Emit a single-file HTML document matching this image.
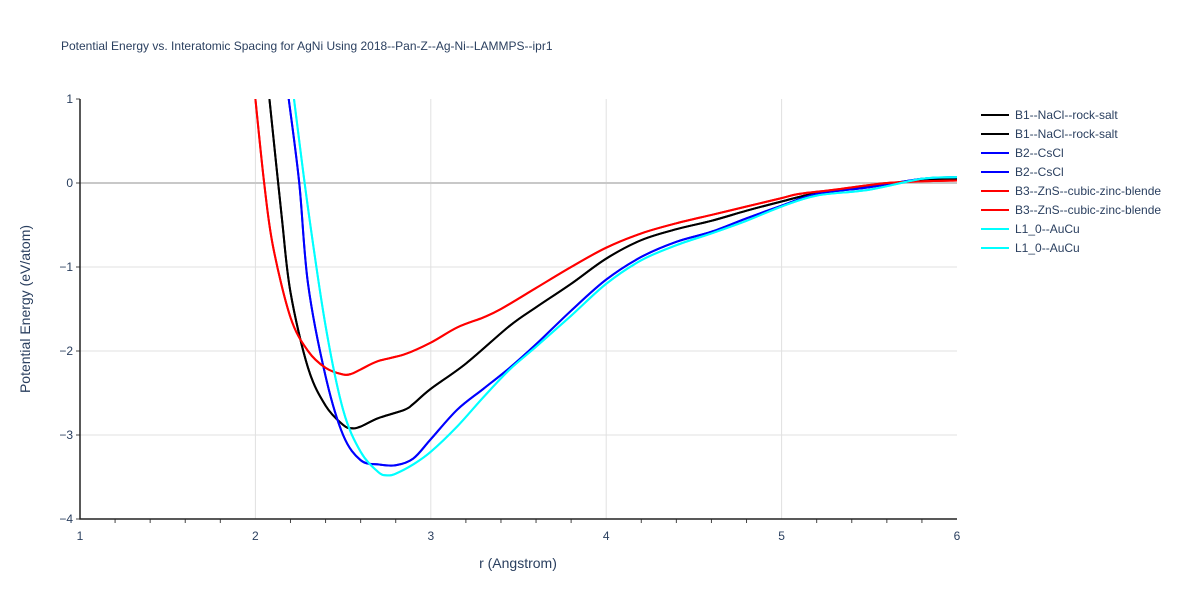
<!DOCTYPE html>
<html><head><meta charset="utf-8"><style>
body{margin:0;background:#fff;font-family:"Liberation Sans",sans-serif}
svg text{font-family:"Liberation Sans",sans-serif}
</style></head><body>
<svg id="chart" width="1200" height="600" xmlns="http://www.w3.org/2000/svg">
<rect width="1200" height="600" fill="#fff"/>
<text x="61" y="50" font-size="12" fill="#2a3f5f">Potential Energy vs. Interatomic Spacing for AgNi Using 2018--Pan-Z--Ag-Ni--LAMMPS--ipr1</text>
<g id="grid"></g><g id="series" clip-path="url(#clip)"></g><g id="axes"></g><g id="legend"></g>
<defs><clipPath id="clip"><rect x="80" y="99" width="877" height="420"/></clipPath></defs>
<text x="518" y="568" font-size="14" fill="#2a3f5f" text-anchor="middle">r (Angstrom)</text>
<text transform="translate(30,309) rotate(-90)" font-size="14" fill="#2a3f5f" text-anchor="middle">Potential Energy (eV/atom)</text>
</svg>
<script>
const xTicks=[1,2,3,4,5,6];
const yTicks=[1,0,-1,-2,-3,-4];
const seriesNames=["B1--NaCl--rock-salt","B2--CsCl","B3--ZnS--cubic-zinc-blende","L1_0--AuCu"];
const b1R=[2.08,2.15,2.2,2.3,2.4,2.5,2.55,2.6,2.7,2.85,2.9,3.0,3.2,3.45,3.6,3.8,4.0,4.2,4.4,4.6,4.8,5.0,5.2,5.5,5.8,6.0];
const b1E=[1,-0.4,-1.3,-2.2,-2.65,-2.88,-2.92,-2.9,-2.8,-2.7,-2.63,-2.45,-2.15,-1.7,-1.48,-1.2,-0.9,-0.68,-0.55,-0.45,-0.33,-0.22,-0.12,-0.04,0.04,0.05];
const b2R=[2.19,2.25,2.3,2.4,2.5,2.6,2.7,2.8,2.9,3.0,3.15,3.3,3.45,3.6,3.8,4.0,4.2,4.4,4.6,4.8,5.0,5.2,5.5,5.8,6.0];
const b2E=[1,0,-1.2,-2.3,-3.0,-3.3,-3.35,-3.36,-3.28,-3.05,-2.7,-2.45,-2.2,-1.92,-1.52,-1.15,-0.88,-0.7,-0.58,-0.42,-0.27,-0.13,-0.05,0.05,0.07];
const b3R=[2.0,2.05,2.1,2.2,2.3,2.4,2.5,2.55,2.6,2.7,2.85,3.0,3.15,3.3,3.4,3.6,3.8,4.0,4.2,4.4,4.6,4.8,5.0,5.1,5.3,5.6,5.8,6.0];
const b3E=[1,0,-0.75,-1.6,-2.0,-2.2,-2.28,-2.27,-2.22,-2.12,-2.04,-1.9,-1.72,-1.6,-1.5,-1.25,-1.0,-0.77,-0.6,-0.48,-0.38,-0.28,-0.18,-0.13,-0.08,0.0,0.02,0.03];
const l1R=[2.22,2.3,2.4,2.5,2.6,2.7,2.75,2.8,2.9,3.0,3.15,3.3,3.45,3.6,3.8,4.0,4.2,4.4,4.6,4.8,5.0,5.2,5.5,5.8,6.0];
const l1E=[1,-0.3,-1.7,-2.7,-3.2,-3.44,-3.48,-3.46,-3.35,-3.2,-2.9,-2.55,-2.22,-1.95,-1.58,-1.2,-0.92,-0.74,-0.6,-0.45,-0.28,-0.15,-0.08,0.05,0.07];
const NS="http://www.w3.org/2000/svg";
const X=r=>80+(r-1)*877/5, Y=e=>99+(1-e)*420/5;
function mk(tag,attrs,parent){const el=document.createElementNS(NS,tag);for(const k in attrs)el.setAttribute(k,attrs[k]);document.getElementById(parent).appendChild(el);return el;}
function smooth(pts){let d='M'+pts[0][0]+','+pts[0][1];const t=0.5/3;
 for(let i=0;i<pts.length-1;i++){const p0=pts[Math.max(0,i-1)],p1=pts[i],p2=pts[i+1],p3=pts[Math.min(pts.length-1,i+2)];
  d+=' C'+(p1[0]+(p2[0]-p0[0])*t)+','+(p1[1]+(p2[1]-p0[1])*t)+' '+(p2[0]-(p3[0]-p1[0])*t)+','+(p2[1]-(p3[1]-p1[1])*t)+' '+p2[0]+','+p2[1];}
 return d;}
xTicks.forEach(t=>{if(t>1&&t<6){const g=mk('line',{x1:X(t),x2:X(t),y1:99,y2:519,stroke:'#e0e0e0','stroke-width':1},'grid');}
 const tx=mk('text',{x:X(t),y:540,'font-size':12,fill:'#2a3f5f','text-anchor':'middle'},'axes');tx.textContent=t;});
for(let t=1.2;t<6;t+=0.2){if(Math.abs(t-Math.round(t))<0.01)continue;const m=mk('line',{x1:X(t),x2:X(t),y1:519,y2:523,stroke:'#444'},'axes');}
yTicks.forEach(t=>{if(t<1&&t>-4){const g=mk('line',{x1:80,x2:957,y1:Y(t),y2:Y(t),stroke:t===0?'#c8c8c8':'#e0e0e0','stroke-width':t===0?2:1},'grid');}
 const tx=mk('text',{x:73,y:Y(t)+4,'font-size':12,fill:'#2a3f5f','text-anchor':'end'},'axes');tx.textContent=t===0?'0':(t<0?'\u2212'+(-t):t);
 const tk=mk('line',{x1:76,x2:80,y1:Y(t),y2:Y(t),stroke:'#444'},'axes');});
const ax=mk('path',{d:'M80,99V519H957',fill:'none',stroke:'#222','stroke-width':1.5},'axes');

const data=[[b1R,b1E,'#000'],[b2R,b2E,'#0000ff'],[b3R,b3E,'#ff0000'],[l1R,l1E,'#00ffff']];
let li=0;
data.forEach((d,i)=>{for(let k=0;k<2;k++){
 const p=mk('path',{d:smooth(d[0].map((r,j)=>[X(r),Y(d[1][j])])),fill:'none',stroke:d[2],'stroke-width':2,'stroke-linejoin':'round'},'series');
 
 const y=115+li*19;li++;
 const l=mk('line',{x1:981,x2:1009,y1:y,y2:y,stroke:d[2],'stroke-width':2},'legend');
 
 const t=mk('text',{x:1015,y:y+4,'font-size':12,fill:'#2a3f5f'},'legend');t.textContent=seriesNames[i];
 }});
</script>
</body></html>
